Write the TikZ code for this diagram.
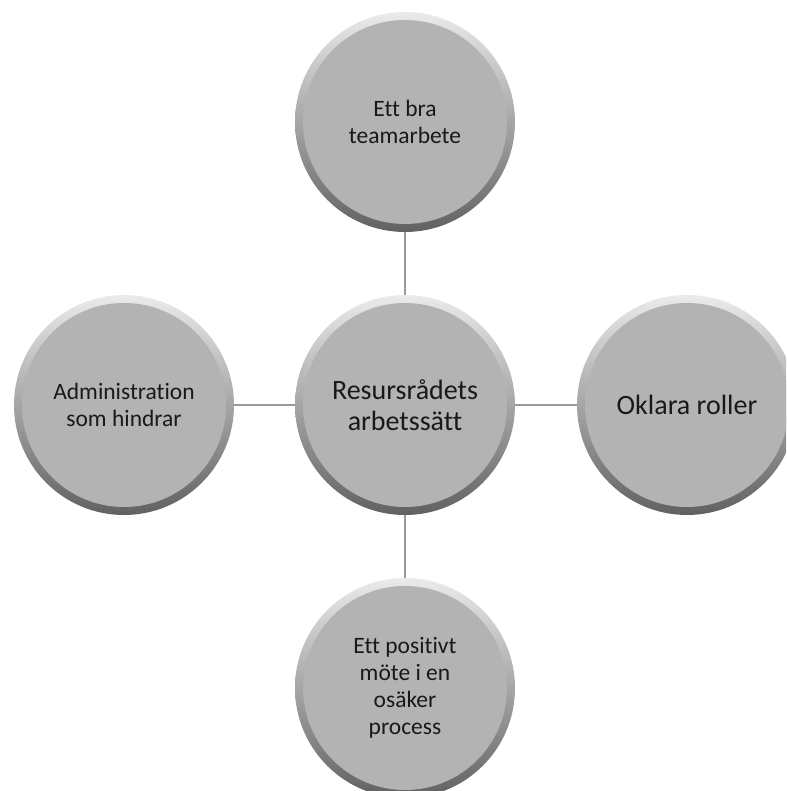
\documentclass[tikz,border=0pt]{standalone}
\usepackage{fontspec}
\setmainfont{Carlito}[Ligatures={NoCommon}]
\definecolor{bubblegray}{HTML}{B3B3B3}
\definecolor{linkgray}{HTML}{9A9A9A}
\tikzset{
  bubble/.style={circle,minimum size=220pt,inner sep=0pt,align=center,
    text=black!90,shade,shading angle=35,
    top color=black!8,bottom color=black!62,
    path picture={\fill[bubblegray] (path picture bounding box.center) circle (102pt);}},
  smalltext/.style={font=\fontsize{23.5}{27}\selectfont},
  bigtext/.style={font=\fontsize{28}{31}\selectfont},
  link/.style={linkgray,line width=2.8pt}
}
\begin{document}
\begin{tikzpicture}[x=1pt,y=1pt]
      \clip (0,0) rectangle (786,791);
      \useasboundingbox (0,0) rectangle (786,791);
      \node[bubble,bigtext] (ctr) at (405,386) {Resursrådets\\arbetssätt};
      \node[bubble,smalltext] (top) at (405,669) {Ett bra\\teamarbete};
      \node[bubble,smalltext] (left) at (124,386) {Administration\\som hindrar};
      \node[bubble,bigtext] (right) at (687,386) {Oklara roller};
      \node[bubble,smalltext] (bottom) at (405,103) {Ett positivt\\möte i en\\osäker\\process};
      \draw[link] (top) -- (ctr);
      \draw[link] (left) -- (ctr);
      \draw[link] (right) -- (ctr);
      \draw[link] (bottom) -- (ctr);
    \end{tikzpicture}
\end{document}
